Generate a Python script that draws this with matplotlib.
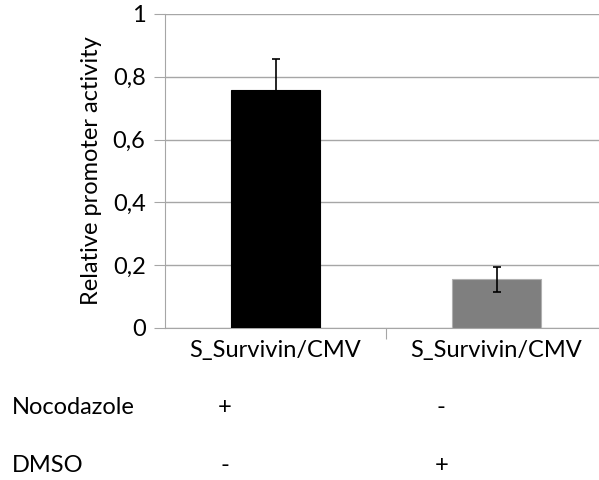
import matplotlib.pyplot as plt
import matplotlib.transforms as mtransforms

# data
categories = ['S_Survivin/CMV', 'S_Survivin/CMV']
values = [0.757, 0.155]
errors = [0.10, 0.039]
bar_colors = ['black', '#7f7f7f']
yticks = [0, 0.2, 0.4, 0.6, 0.8, 1]
ytick_labels = ['0', '0,2', '0,4', '0,6', '0,8', '1']
row_names = ['Nocodazole', 'DMSO']
row_signs = [['+', '-'], ['-', '+']]

plt.rcParams['font.family'] = ['Lato', 'DejaVu Sans']
grid_color = '#a6a6a6'
fs = 17

fig = plt.figure(figsize=(5.99, 4.8), dpi=100)
ax = fig.add_axes([165 / 599, 1 - 328 / 480, 442 / 599, 314 / 480])

x = [0, 1]
ax.bar(x, values, width=0.4, color=bar_colors, edgecolor=['black', '#b0b0b0'],
       linewidth=0.8, zorder=3)
ax.errorbar(x, values, yerr=errors, fmt='none', ecolor='black', elinewidth=1.2,
            capsize=3, capthick=1.2, zorder=4)

ax.set_xlim(-0.5, 1.5)
ax.set_ylim(0, 1)
ax.set_yticks(yticks)
ax.set_yticklabels(ytick_labels, fontsize=fs)
ax.yaxis.grid(True, color=grid_color, linewidth=1, zorder=0)
ax.tick_params(axis='y', length=8, color=grid_color, pad=6)

ax.set_xticks([0.5])
ax.set_xticklabels([''])
ax.tick_params(axis='x', length=8, color=grid_color)

for s in ['top', 'right']:
    ax.spines[s].set_visible(False)
ax.spines['left'].set_color(grid_color)
ax.spines['bottom'].set_color(grid_color)

ax.set_ylabel('Relative promoter activity', fontsize=fs, labelpad=8)

# category labels and treatment table below the axes
trans = mtransforms.blended_transform_factory(ax.transData, fig.transFigure)
for xi, lab in zip(x, categories):
    ax.text(xi, 1 - 351 / 480, lab, transform=trans, ha='center', va='center', fontsize=fs)

row_y = [1 - 407 / 480, 1 - 465 / 480]
for name, signs, yy in zip(row_names, row_signs, row_y):
    fig.text(12 / 599, yy, name, ha='left', va='center', fontsize=fs)
    for xi, s in zip([-0.23, 0.75], signs):
        ax.text(xi, yy, s, transform=trans, ha='center', va='center', fontsize=fs)

fig.savefig('out.png', dpi=100)
